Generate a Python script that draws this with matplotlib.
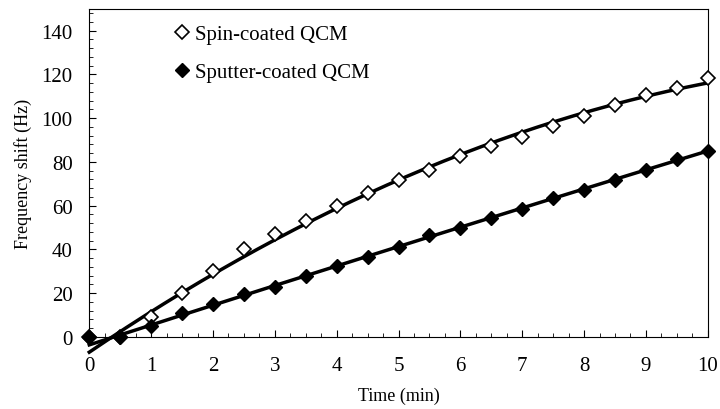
import matplotlib
matplotlib.use('Agg')
import matplotlib.pyplot as plt
import numpy as np
from matplotlib.ticker import MultipleLocator

plt.rcParams['font.family'] = ['Liberation Serif', 'DejaVu Serif']

time_min = [0, 0.5, 1, 1.5, 2, 2.5, 3, 3.5, 4, 4.5, 5, 5.5, 6, 6.5, 7, 7.5, 8, 8.5, 9, 9.5, 10]
spin = [0, 0, 9, 20, 30, 40, 47, 53, 60, 66, 71.5, 76.5, 82.5, 87.5, 91.5, 96.5, 101, 106, 110.5, 114, 118.5]
sputter = [0, 0, 5, 11, 15, 19.5, 23, 28, 32.5, 36.5, 41, 46.5, 50, 54.5, 58.5, 63.5, 67, 71.5, 76.5, 81.5, 85]

x = np.array(time_min)
xs = np.linspace(0, 10, 200)

fig = plt.figure(figsize=(7.2, 4.1), dpi=100)
ax = fig.add_axes([0.124, 0.176, 0.859, 0.8])

# trend lines, fitted on the points from 0.5 min on
for ys in [spin, sputter]:
    c = np.polyfit(x[1:], np.array(ys)[1:], 2)
    ax.plot(xs, np.polyval(c, xs), color='black', lw=2.5, clip_on=False, zorder=2)

ax.plot(x, spin, 'D', ms=7.5, mfc='white', mec='black', mew=1.2, ls='none',
        label='Spin-coated QCM', clip_on=False, zorder=3)
ax.plot(x, sputter, 'D', ms=7.5, mfc='black', mec='black', ls='none',
        label='Sputter-coated QCM', clip_on=False, zorder=3)

ax.set_xlim(0, 10)
ax.set_ylim(0, 150)
ax.set_xticks(range(0, 11))
ax.set_yticks(range(0, 141, 20))
ax.xaxis.set_minor_locator(MultipleLocator(0.25))
ax.yaxis.set_minor_locator(MultipleLocator(4))
ax.tick_params(which='both', direction='in', labelsize=15)
ax.tick_params(which='major', length=5)
ax.tick_params(which='minor', length=3)
ax.tick_params(axis='x', pad=14)
ax.tick_params(axis='y', pad=12)
ax.set_xlabel('Time (min)', fontsize=13, labelpad=8)
ax.set_ylabel('Frequency shift (Hz)', fontsize=13, labelpad=7)

ax.legend(loc='upper left', bbox_to_anchor=(0.11, 1.01), frameon=False, fontsize=15,
          handlelength=0.6, handletextpad=0.3, labelspacing=0.9)

fig.savefig('out.png', dpi=100)
